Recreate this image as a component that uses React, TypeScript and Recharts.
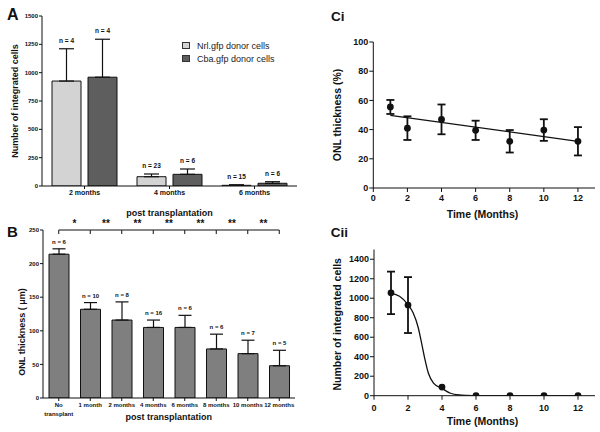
import React from 'react';
import {
  BarChart, Bar, XAxis, YAxis, ErrorBar, LabelList, Legend, ComposedChart, Line,
  ReferenceLine, Label,
} from 'recharts';

const FONT = '"Liberation Sans", Arial, Helvetica, sans-serif';
const INK = '#111';

// ---------- Panel A ----------
const aCategories = ['2 months', '4 months', '6 months'];
const aNrlMean = [926, 82, 6];
const aNrlSD = [285, 24, 5];
const aNrlN = [4, 23, 15];
const aCbaMean = [960, 103, 24];
const aCbaSD = [335, 47, 14];
const aCbaN = [4, 6, 6];
const aTicks = [0, 250, 500, 750, 1000, 1250, 1500];
const aSeriesOrder = ['nrl', 'cba'];

// ---------- Panel B ----------
const bCategories = ['No\ntransplant', '1 month', '2 months', '4 months', '6 months', '8 months', '10 months', '12 months'];
const bMean = [214, 132, 116, 105, 105, 73, 66, 48];
const bSD = [8, 10, 27, 11, 18, 22, 20, 23];
const bN = [6, 10, 8, 16, 6, 6, 7, 5];
const bStars = ['*', '**', '**', '**', '**', '**', '**'];
const bTicks = [0, 50, 100, 150, 200, 250];

// ---------- Panel Ci ----------
const ciMonths = [1, 2, 4, 6, 8, 10, 12];
const ciMean = [55.5, 41, 47, 39.5, 32, 39.7, 32];
const ciSD = [4.8, 8.1, 10.2, 6.6, 7.7, 7.4, 9.7];
const ciFitX = [1, 12];
const ciFitY = [49.8, 31.9];
const ciYTicks = [0, 20, 40, 60, 80, 100];

// ---------- Panel Cii ----------
const ciiMonths = [1, 2, 4, 6, 8, 10, 12];
const ciiMean = [1055, 930, 88, 0, 0, 0, 0];
const ciiSD = [218, 287, 0, 0, 0, 0, 0];
const ciiFitX = [1, 1.5, 2, 2.3, 2.6, 2.8, 3.0, 3.2, 3.5, 4, 4.5, 5, 5.5, 6, 12];
const ciiFitY = [1050, 1020, 935, 850, 700, 540, 370, 230, 130, 75, 25, 7, 2, 0, 0];
const ciiYTicks = [0, 200, 400, 600, 800, 1000, 1200, 1400];
const monthTicks = [0, 2, 4, 6, 8, 10, 12];

// ---------- tables ----------
const aData = aCategories.map((c, i) => ({
  cat: c,
  nrl: aNrlMean[i], nrlErr: [0, aNrlSD[i]],
  cba: aCbaMean[i], cbaErr: [0, aCbaSD[i]],
}));
const bData = bCategories.map((c, i) => ({ cat: c, v: bMean[i], err: [0, bSD[i]] }));
const ciData = ciMonths.map((x, i) => ({ x, y: ciMean[i], sd: ciSD[i] }));
const ciFit = ciFitX.map((x, i) => ({ x, y: ciFitY[i] }));
const ciiData = ciiMonths.map((x, i) => ({ x, y: ciiMean[i], sd: ciiSD[i] }));
const ciiFit = ciiFitX.map((x, i) => ({ x, y: ciiFitY[i] }));

// ---------- helpers ----------
const vTitle = (text: string, cx: number, cy: number, size: number) => () => (
  <text x={cx} y={cy} transform={`rotate(-90 ${cx} ${cy})`} textAnchor="middle" dominantBaseline="central"
    fontSize={size} fontWeight="bold" fontFamily={FONT} fill={INK}>{text}</text>
);
const hTitle = (text: string, cx: number, baseline: number, size: number) => () => (
  <text x={cx} y={baseline} textAnchor="middle" fontSize={size} fontWeight="bold" fontFamily={FONT} fill={INK}>{text}</text>
);

const makeNLabel = (means: number[], sds: number[], ns: number[], size: number, gap: number) => (props: any) => {
  const vb = props.viewBox || props;
  const i = props.index;
  const { x, y, width, height } = vb;
  const m = means[i];
  if (!m || !height) return null;
  const per = height / m;
  const top = y + height - (m + sds[i]) * per;
  return (
    <text x={x + width / 2} y={top - gap} textAnchor="middle" fontSize={size} fontWeight="bold"
      fontFamily={FONT} fill={INK}>{`n = ${ns[i]}`}</text>
  );
};

const BTick = (props: any) => {
  const { x, y, payload } = props;
  const lines = String(payload.value).split('\n');
  return (
    <text x={x} y={y} textAnchor="middle" fontSize={6} fontWeight="bold" fontFamily={FONT} fill={INK}>
      {lines.map((l, i) => (
        <tspan key={i} x={x} dy={i === 0 ? '0.71em' : 9}>{l}</tspan>
      ))}
    </text>
  );
};

const dotShape = (p: any) => <circle key={`d${p.index}`} cx={p.cx} cy={p.cy} r={3.4} fill={INK} />;

const legendContent = (props: any) => {
  const items = [...(props.payload || [])].sort(
    (a: any, b: any) => aSeriesOrder.indexOf(a.dataKey) - aSeriesOrder.indexOf(b.dataKey));
  return (
    <div style={{ fontFamily: FONT }}>
      {items.map((p: any, i: number) => (
        <div key={i} style={{ display: 'flex', alignItems: 'center', height: 13 }}>
          <span style={{ display: 'inline-block', width: 6, height: 5, background: p.color, border: '1px solid #333', marginRight: 7 }} />
          <span style={{ fontSize: 9, color: '#222', whiteSpace: 'nowrap' }}>{p.value}</span>
        </div>
      ))}
    </div>
  );
};

const tickStyle = (size: number) => ({ fontSize: size, fontWeight: 'bold', fill: INK, fontFamily: FONT });

export default function App() {
  return (
    <div style={{ position: 'absolute', left: 0, top: 0, width: 600, height: 432, background: '#fff', fontFamily: FONT }}>
      {/* Panel A */}
      <div style={{ position: 'absolute', left: 0, top: 0 }}>
        <BarChart width={300} height={220} data={aData} margin={{ top: 16, right: 3, left: 12, bottom: 0 }}
          barSize={29} barGap={7}>
          <XAxis dataKey="cat" interval={0} height={34} tickSize={3} tickMargin={1.5} stroke={INK}
            tick={tickStyle(7)}>
            <Label content={hTitle('post transplantation', 169.5, 215.5, 9)} />
          </XAxis>
          <YAxis domain={[0, 1500]} ticks={aTicks} width={30} tickSize={3} tickMargin={1} stroke={INK}
            tick={tickStyle(6)} allowDataOverflow>
            <Label content={vTitle('Number of integrated cells', 15, 101, 9)} />
          </YAxis>
          <Legend layout="horizontal" verticalAlign="middle" align="center" content={legendContent}
            wrapperStyle={{ position: 'absolute', left: 182, top: 39, width: 110 }} />
          <Bar dataKey="nrl" name="Nrl.gfp donor cells" fill="#d3d3d3" stroke={INK} strokeWidth={1} isAnimationActive={false}>
            <ErrorBar dataKey="nrlErr" width={7.5} stroke={INK} strokeWidth={1.2} direction="y" />
            <LabelList content={makeNLabel(aNrlMean, aNrlSD, aNrlN, 6.5, 6)} />
          </Bar>
          <Bar dataKey="cba" name="Cba.gfp donor cells" fill="#5e5e5e" stroke={INK} strokeWidth={1} isAnimationActive={false}>
            <ErrorBar dataKey="cbaErr" width={7.5} stroke={INK} strokeWidth={1.2} direction="y" />
            <LabelList content={makeNLabel(aCbaMean, aCbaSD, aCbaN, 6.5, 6)} />
          </Bar>
        </BarChart>
      </div>

      {/* Panel B */}
      <div style={{ position: 'absolute', left: 0, top: 215 }}>
        <BarChart width={300} height={217} data={bData} margin={{ top: 15, right: 5, left: 12, bottom: 0 }} barSize={20}>
          <XAxis dataKey="cat" interval={0} height={34} tickSize={3} tickMargin={2} stroke={INK} tick={<BTick />}>
            <Label content={hTitle('post transplantation', 168.7, 204.5, 9)} />
          </XAxis>
          <YAxis domain={[0, 250]} ticks={bTicks} width={31} tickSize={3} tickMargin={1} stroke={INK}
            tick={tickStyle(6)} allowDataOverflow>
            <Label content={vTitle('ONL thickness ( μm)', 21.7, 117, 9)} />
          </YAxis>
          <Bar dataKey="v" fill="#7f7f7f" stroke={INK} strokeWidth={1} isAnimationActive={false}>
            <ErrorBar dataKey="err" width={6.5} stroke={INK} strokeWidth={1.2} direction="y" />
            <LabelList content={makeNLabel(bMean, bSD, bN, 6, 5)} />
          </Bar>
          {bStars.map((s, i) => (
            <ReferenceLine key={`bs${i}`}
              segment={[{ x: bCategories[i], y: 250 }, { x: bCategories[i + 1], y: 250 }]}
              stroke={INK} strokeWidth={1} ifOverflow="visible"
              label={{ value: s, position: 'top', offset: 3, fontSize: 10, fontWeight: 'bold', fill: INK, fontFamily: FONT }} />
          ))}
          {bCategories.map((c, i) => (
            <ReferenceLine key={`bt${i}`} segment={[{ x: c, y: 250 }, { x: c, y: 244 }]}
              stroke={INK} strokeWidth={1} ifOverflow="visible" />
          ))}
        </BarChart>
      </div>

      {/* Panel Ci */}
      <div style={{ position: 'absolute', left: 300, top: 0 }}>
        <ComposedChart width={300} height={220} margin={{ top: 42, right: 5, left: 38.3, bottom: 0 }}>
          <XAxis dataKey="x" type="number" domain={[0, 13]} ticks={monthTicks} height={32} tickSize={4} tickMargin={3}
            stroke={INK} tick={tickStyle(9)} allowDataOverflow>
            <Label content={hTitle('Time (Months)', 182.5, 217.5, 10.5)} />
          </XAxis>
          <YAxis dataKey="y" type="number" domain={[0, 100]} ticks={ciYTicks} width={35} tickSize={4} tickMargin={1}
            stroke={INK} tick={tickStyle(9)} allowDataOverflow>
            <Label content={vTitle('ONL thickness (%)', 36.7, 115, 10.5)} />
          </YAxis>
          <Line data={ciFit} dataKey="y" stroke={INK} strokeWidth={1.3} dot={false} isAnimationActive={false} />
          <Line data={ciData} dataKey="y" stroke="none" dot={dotShape} activeDot={false} isAnimationActive={false}>
            <ErrorBar dataKey="sd" width={4} stroke={INK} strokeWidth={1.8} direction="y" />
          </Line>
        </ComposedChart>
      </div>

      {/* Panel Cii */}
      <div style={{ position: 'absolute', left: 300, top: 220 }}>
        <ComposedChart width={300} height={212} margin={{ top: 29.5, right: 5, left: 39, bottom: 0 }}>
          <XAxis dataKey="x" type="number" domain={[0, 13]} ticks={monthTicks} height={36.3} tickSize={4} tickMargin={5}
            stroke={INK} tick={tickStyle(9)} allowDataOverflow>
            <Label content={hTitle('Time (Months)', 182.5, 205.2, 10.5)} />
          </XAxis>
          <YAxis dataKey="y" type="number" domain={[0, 1500]} ticks={ciiYTicks} width={35} tickSize={4} tickMargin={1}
            stroke={INK} tick={tickStyle(9)} allowDataOverflow>
            <Label content={vTitle('Number of integrated cells', 37.3, 104.3, 10.5)} />
          </YAxis>
          <Line data={ciiFit} dataKey="y" type="monotone" stroke={INK} strokeWidth={1.3} dot={false} isAnimationActive={false} />
          <Line data={ciiData} dataKey="y" stroke="none" dot={dotShape} activeDot={false} isAnimationActive={false}>
            <ErrorBar dataKey="sd" width={4} stroke={INK} strokeWidth={1.8} direction="y" />
          </Line>
        </ComposedChart>
      </div>

      {/* Panel letters */}
      <svg width={600} height={432} style={{ position: 'absolute', left: 0, top: 0, pointerEvents: 'none' }}>
        <text x={7} y={20} fontSize={16} fontWeight="bold" fontFamily={FONT} fill={INK}>A</text>
        <text x={7} y={237.3} fontSize={15} fontWeight="bold" fontFamily={FONT} fill={INK}>B</text>
        <text x={331} y={21} fontSize={13.5} fontWeight="bold" fontFamily={FONT} fill={INK}>Ci</text>
        <text x={330.7} y={236.7} fontSize={13.5} fontWeight="bold" fontFamily={FONT} fill={INK}>Cii</text>
      </svg>
    </div>
  );
}
